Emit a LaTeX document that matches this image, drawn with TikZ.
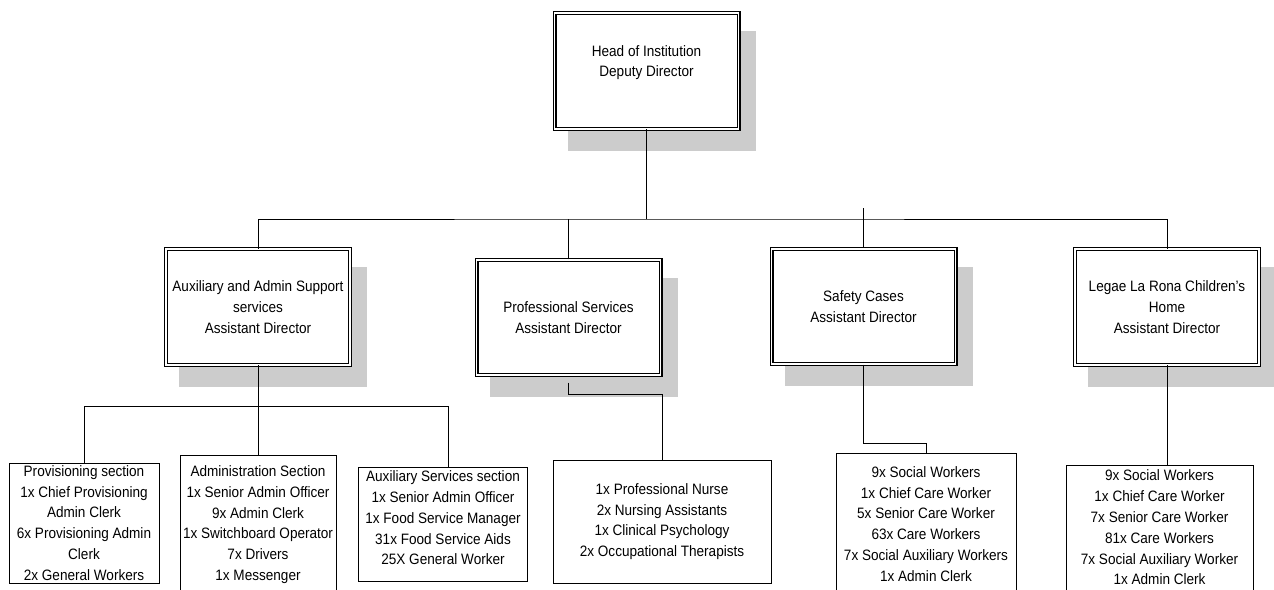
\documentclass[tikz,border=0pt]{standalone}
\usepackage{fontspec}
\setmainfont{Liberation Sans}[FakeStretch=0.9]
\usepackage{tikz}
\usetikzlibrary{positioning,shadows}

\tikzset{
  dbox/.style={draw, fill=white, double, double distance=1.3pt, line width=0.85pt,
    minimum width=138pt, minimum height=86.5pt, inner sep=0pt, align=center,
    font=\fontsize{11.3}{15.6}\selectfont,
    general shadow={fill=gray!40, draw=gray!40, line width=3pt,
      shadow xshift=11.5pt, shadow yshift=-15pt}},
  lbox/.style={draw, fill=white, line width=0.75pt, inner sep=0pt, align=center,
    font=\fontsize{11.3}{15.6}\selectfont},
  conn/.style={line width=0.75pt}
}

\begin{document}
\begin{tikzpicture}[x=0.75pt,y=-0.75pt]
\useasboundingbox (0,0) rectangle (1274,589);
\clip (0,0) rectangle (1274,589);

% directors
\draw node (head) at (646.5,71) [dbox, text depth=15pt]{Head of Institution\\Deputy Director};
\draw node (aux) at (258,307) [dbox]{Auxiliary and Admin Support\\services\\Assistant Director};
\draw node (prof) at (568.5,317.5) [dbox]{Professional Services\\Assistant Director};
\draw node (safety) at (863.5,306.5) [dbox]{Safety Cases\\Assistant Director};
\draw node (legae) at (1167,307) [dbox]{Legae La Rona Children’s\\Home\\Assistant Director};

% staff
\draw node (prov) at (84,523) [lbox, minimum width=112.5pt, minimum height=90pt]{Provisioning section\\1x Chief Provisioning\\Admin Clerk\\6x Provisioning Admin\\Clerk\\2x General Workers};
\draw node (admin) at (258,524.5) [lbox, minimum width=117pt, minimum height=104.25pt]{Administration Section\\1x Senior Admin Officer\\9x Admin Clerk\\1x Switchboard Operator\\7x Drivers\\1x Messenger};
\draw node (auxsvc) at (443,524.5) [lbox, minimum width=127pt, minimum height=85.8pt, text depth=10pt]{Auxiliary Services section\\1x Senior Admin Officer\\1x Food Service Manager\\31x Food Service Aids\\25X General Worker};
\draw node (proflist) at (662,521.5) [lbox, minimum width=163.5pt, minimum height=92.25pt]{1x Professional Nurse\\2x Nursing Assistants\\1x Clinical Psychology\\2x Occupational Therapists};
\draw node (safelist) at (926,524) [lbox, minimum width=135pt, minimum height=106.5pt]{9x Social Workers\\1x Chief Care Worker\\5x Senior Care Worker\\63x Care Workers\\7x Social Auxiliary Workers\\1x Admin Clerk};
\draw node (legaelist) at (1159.5,527.5) [lbox, minimum width=140.25pt, minimum height=93.75pt]{9x Social Workers\\1x Chief Care Worker\\7x Senior Care Worker\\81x Care Workers\\7x Social Auxiliary Worker\\1x Admin Clerk};

\coordinate (bus) at (646.5,219);
\coordinate (stub) at (863.5,208);
\coordinate (bus2) at (258,406);
\coordinate (svc) at (448,406);
\coordinate (pbend) at (662,394);
\coordinate (sbend) at (926,443);

\draw[conn] (head) -- (bus);
\draw[conn] (aux) |- (bus) -| (legae);
\draw[conn] (prof) -- (prof |- bus);
\draw[conn] (stub) -- (safety);
\draw[conn] (aux) -- (bus2);
\draw[conn] (bus2) -- (admin);
\draw[conn] (prov) |- (svc) -- (svc |- auxsvc.north);
\draw[conn] ([yshift=-5.25pt]prof.south) |- (pbend) -- (proflist);
\draw[conn] (safety) |- (sbend) -- (safelist);
\draw[conn] (legae) -- (legae |- legaelist.north);
\end{tikzpicture}
\end{document}
